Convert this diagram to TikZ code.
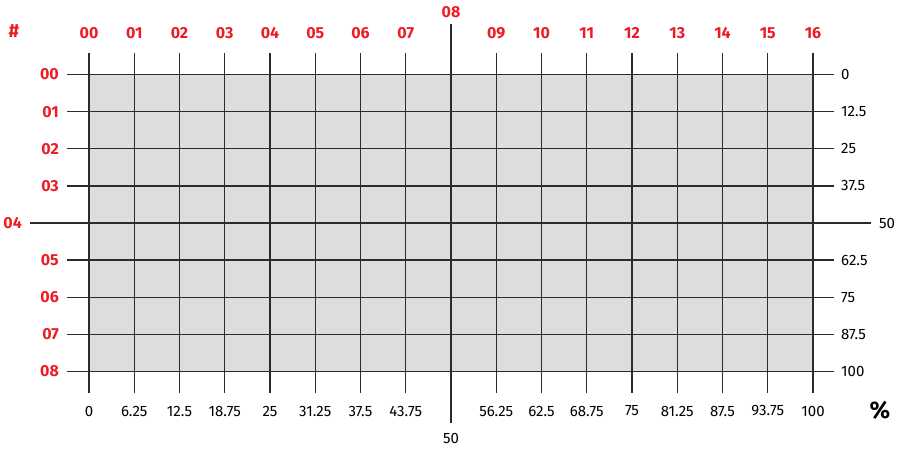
\documentclass[tikz,border=0pt]{standalone}
\usepackage{fontspec}
\setmainfont{Fira Sans}
\usetikzlibrary{positioning}
\definecolor{gridred}{HTML}{ED1C24}
\definecolor{gridgray}{HTML}{DCDDDF}
\definecolor{gridline}{HTML}{2B2B2B}

\begin{document}
\begin{tikzpicture}[x=1pt,y=-1pt,
  redlabel/.style={text=gridred,font=\fontsize{16}{16}\selectfont\bfseries,inner sep=0pt},
  numlabel/.style={font=\fontsize{15}{15}\selectfont,inner sep=0pt},
  gridrule/.style={draw=gridline,line width=1.3pt}]
  \useasboundingbox (0,0) rectangle (900,450);
  % shaded field
  \fill[gridgray] (89,74.5) rectangle (813,371.5);
  % columns
  \foreach \i in {0,...,16}{
    \pgfmathsetmacro{\xx}{89+45.25*\i}
    \ifnum\i=8
      \draw[gridrule] (\xx,24) -- (\xx,423);
      \node[redlabel] (top-\i) at (\xx,12) {08};
    \else
      \draw[gridrule] (\xx,53) -- (\xx,393);
      \node[redlabel] (top-\i) at (\xx,33) {\ifnum\i<10 0\fi\i};
    \fi
  }
  % rows
  \foreach \j/\pct in {0/0,1/12.5,2/25,3/37.5,4/50,5/62.5,6/75,7/87.5,8/100}{
    \pgfmathsetmacro{\yy}{74.5+37.125*\j}
    \ifnum\j=4
      \draw[gridrule] (30,\yy) -- (871,\yy);
      \node[redlabel,anchor=east] (left-\j) at (22,\yy) {04};
      \node[numlabel,anchor=west] (right-\j) at (879,\yy) {\pct};
    \else
      \draw[gridrule] (67,\yy) -- (834,\yy);
      \node[redlabel,anchor=east] (left-\j) at (59,\yy) {0\j};
      \node[numlabel,anchor=west] (right-\j) at (841,\yy) {\pct};
    \fi
  }
  % bottom scale
  \foreach \i/\pct in {0/0,1/6.25,2/12.5,3/18.75,4/25,5/31.25,6/37.5,7/43.75,
                       9/56.25,10/62.5,11/68.75,12/75,13/81.25,14/87.5,15/93.75,16/100}{
    \node[numlabel] (bottom-\i) at (89+45.25*\i,411) {\pct};
  }
  \node[numlabel] (bottom-8) at (451,438) {50};
  % axis marks
  \node[redlabel,font=\fontsize{19}{19}\selectfont\bfseries] (hash) at (14,31) {\#};
  \node[font=\fontsize{24}{24}\selectfont\bfseries,inner sep=0pt] (percent) at (880,410) {\%};
\end{tikzpicture}
\end{document}
